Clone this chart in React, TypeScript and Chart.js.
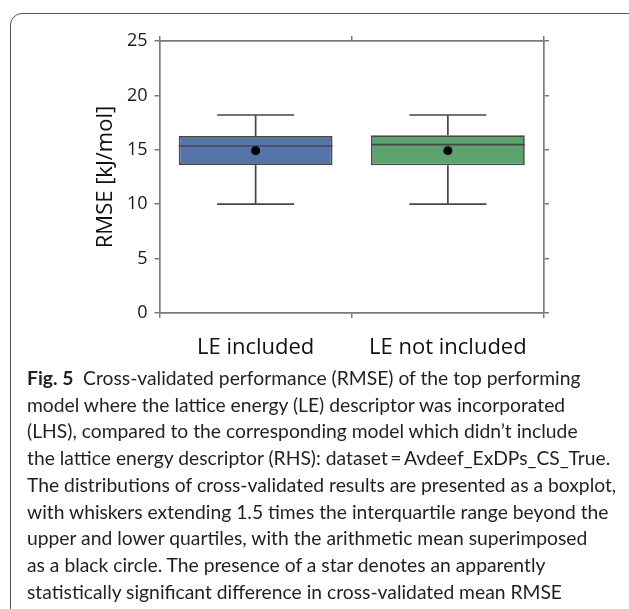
import React, { useEffect, useRef } from "react";
import { Chart, registerables } from "chart.js";

Chart.register(...registerables);

const categories = ["LE included", "LE not included"];
const whiskerLow = [10.0, 10.0];
const q1 = [13.6, 13.57];
const median = [15.35, 15.47];
const q3 = [16.27, 16.33];
const whiskerHigh = [18.2, 18.2];
const means = [14.92, 14.92];
const boxColors = ["#5573A8", "#5DA36F"];
const yTicks = [0, 5, 10, 15, 20, 25];

const captionLines = [
  "model where the lattice energy (LE) descriptor was incorporated",
  "(LHS), compared to the corresponding model which didn\u2019t include",
  "the lattice energy descriptor (RHS): dataset\u2009=\u2009Avdeef_ExDPs_CS_True.",
  "The distributions of cross-validated results are presented as a boxplot,",
  "with whiskers extending 1.5 times the interquartile range beyond the",
  "upper and lower quartiles, with the arithmetic mean superimposed",
  "as a black circle. The presence of a star denotes an apparently",
  "statistically significant difference in cross-validated mean RMSE",
];

const LINE = "#474747";
const AXIS = "#7a7a7a";
const FONT = "'Open Sans', sans-serif";

const boxPlugin = {
  id: "boxWhiskers",
  afterDatasetDraw(chart: any, args: any) {
    if (args.index !== 0) return;
    const { ctx } = chart;
    const x = chart.scales.x;
    const y = chart.scales.y;
    const meta = chart.getDatasetMeta(0);
    ctx.save();
    ctx.strokeStyle = LINE;
    ctx.lineWidth = 1.7;
    categories.forEach((_, i) => {
      const cx = x.getPixelForValue(i);
      const bar = meta.data[i];
      const half = bar.width / 2;
      const capHalf = half / 2;
      const yLo = y.getPixelForValue(whiskerLow[i]);
      const yQ1 = y.getPixelForValue(q1[i]);
      const yQ3 = y.getPixelForValue(q3[i]);
      const yHi = y.getPixelForValue(whiskerHigh[i]);
      const yMed = y.getPixelForValue(median[i]);
      ctx.beginPath();
      ctx.moveTo(cx, yQ1);
      ctx.lineTo(cx, yLo);
      ctx.moveTo(cx, yQ3);
      ctx.lineTo(cx, yHi);
      ctx.moveTo(cx - capHalf, yLo);
      ctx.lineTo(cx + capHalf, yLo);
      ctx.moveTo(cx - capHalf, yHi);
      ctx.lineTo(cx + capHalf, yHi);
      ctx.moveTo(cx - half, yMed);
      ctx.lineTo(cx + half, yMed);
      ctx.stroke();
    });
    ctx.restore();
  },
};

export default function App() {
  const ref = useRef<HTMLCanvasElement>(null);

  useEffect(() => {
    const canvas = ref.current!;
    const chart = new Chart(canvas, {
      type: "bar",
      data: {
        labels: categories,
        datasets: [
          {
            type: "bar",
            data: categories.map((_, i) => [q1[i], q3[i]]) as any,
            backgroundColor: boxColors,
            borderColor: LINE,
            borderWidth: 1.7,
            borderSkipped: false,
            barPercentage: 0.8,
            categoryPercentage: 1.0,
            order: 1,
          } as any,
          {
            type: "line",
            data: means,
            showLine: false,
            pointRadius: 4.5,
            pointBackgroundColor: "#000",
            pointBorderColor: "#000",
            pointBorderWidth: 0,
            order: 0,
          } as any,
        ],
      },
      options: {
        animation: false,
        responsive: false,
        events: [],
        layout: { padding: { left: 90, top: 0, right: 0, bottom: 0 } },
        plugins: { legend: { display: false }, tooltip: { enabled: false } },
        scales: {
          x: {
            type: "category",
            position: "bottom",
            grid: { drawOnChartArea: false, drawTicks: true, tickLength: 5, color: AXIS, lineWidth: 1.5 },
            border: { display: true, color: AXIS, width: 1.7 },
            ticks: { color: "#111", font: { family: FONT, size: 22 }, padding: 17, maxRotation: 0 },
            afterFit: (s: any) => { s.height = 370 - 313; },
          },
          x2: {
            type: "category",
            position: "top",
            labels: categories,
            grid: { drawOnChartArea: false, drawTicks: true, tickLength: 5, color: AXIS, lineWidth: 1.5 },
            border: { display: true, color: AXIS, width: 1.7 },
            ticks: { display: false },
            afterFit: (s: any) => { s.height = 41; },
          },
          y: {
            type: "linear",
            position: "left",
            min: 0,
            max: 25,
            afterBuildTicks: (s: any) => { s.ticks = yTicks.map((v) => ({ value: v })); },
            grid: { drawOnChartArea: false, drawTicks: true, tickLength: 5, color: AXIS, lineWidth: 1.5 },
            border: { display: true, color: AXIS, width: 1.7 },
            ticks: { color: "#1a1a1a", font: { family: FONT, size: 18 }, padding: 7 },
            title: {
              display: true,
              text: "RMSE [kJ/mol]",
              color: "#111",
              font: { family: FONT, size: 22 },
              padding: { top: 3, bottom: 0 },
            },
            afterFit: (s: any) => { s.width = 159.5 - 90; },
          },
          y2: {
            type: "linear",
            position: "right",
            min: 0,
            max: 25,
            afterBuildTicks: (s: any) => { s.ticks = yTicks.map((v) => ({ value: v })); },
            grid: { drawOnChartArea: false, drawTicks: true, tickLength: 5, color: AXIS, lineWidth: 1.5 },
            border: { display: true, color: AXIS, width: 1.7 },
            ticks: { display: false },
            afterFit: (s: any) => { s.width = 629 - 544; },
          },
        },
      } as any,
      plugins: [boxPlugin],
    });
    return () => chart.destroy();
  }, []);

  return (
    <div
      style={{
        position: "absolute",
        left: 0,
        top: 0,
        width: 629,
        height: 609,
        overflow: "hidden",
        background: "#fff",
      }}
    >
      <div
        style={{
          position: "absolute",
          left: 10,
          top: 13,
          width: 640,
          height: 620,
          border: "1.5px solid #555",
          borderRadius: 12,
          boxSizing: "border-box",
        }}
      />
      <canvas
        ref={ref}
        width={629}
        height={370}
        style={{ position: "absolute", left: 0, top: 0, width: 629, height: 370 }}
      />
      <div
        style={{
          position: "absolute",
          left: 27,
          top: 365,
          fontFamily: "Lato, sans-serif",
          fontSize: 19.3,
          lineHeight: "26.7px",
          color: "#231f20",
          whiteSpace: "nowrap",
        }}
      >
        <div>
          <b>Fig. 5</b>
          {"\u2002Cross-validated performance (RMSE) of the top performing"}
        </div>
        {captionLines.map((l, i) => (
          <div key={i}>{l}</div>
        ))}
      </div>
    </div>
  );
}
